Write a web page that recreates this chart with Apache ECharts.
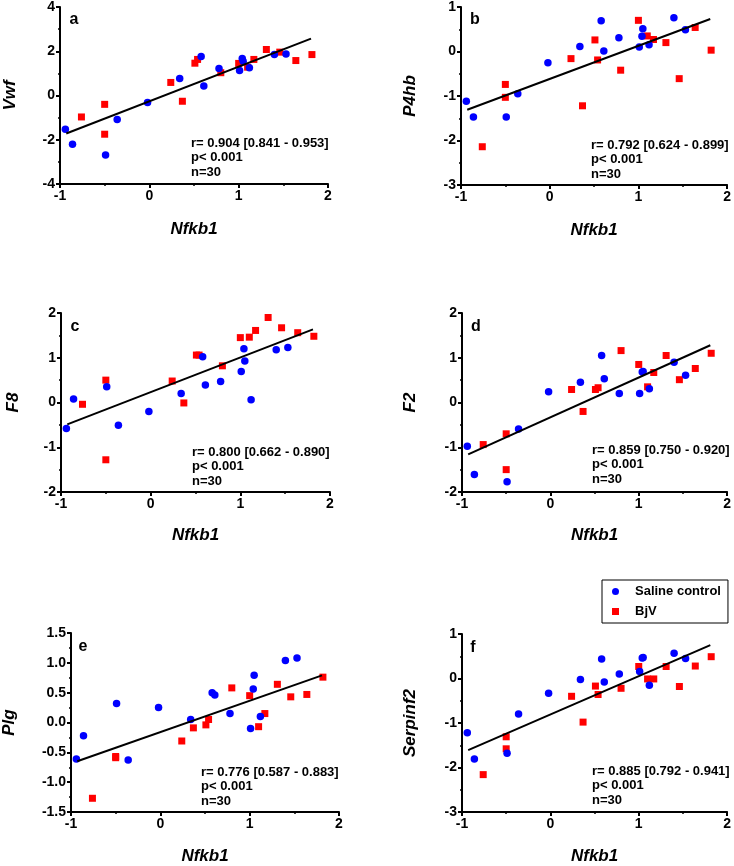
<!DOCTYPE html>
<html><head><meta charset="utf-8">
<script src="https://cdn.jsdelivr.net/npm/echarts@6/dist/echarts.min.js"></script>
<style>html,body{margin:0;padding:0;background:#fff}#c{width:734px;height:866px}</style>
</head><body><div id="c"></div>
<script>
// Shared x values (Nfkb1) for each animal
const salineX = [-0.94, -0.86, -0.49, -0.36, -0.02, 0.34, 0.58, 0.61, 0.78, 1.01, 1.04, 1.05, 1.12, 1.40, 1.53];
const bjvX    = [-0.76, -0.50, -0.50, 0.24, 0.37, 0.51, 0.54, 0.80, 1.00, 1.10, 1.17, 1.31, 1.46, 1.64, 1.82];

// y values per gene
const vwfSaline = [-1.52, -2.20, -2.69, -1.09, -0.32, 0.77, 1.76, 0.43, 1.22, 1.13, 1.67, 1.55, 1.25, 1.85, 1.88];
const vwfBjv    = [-0.97, -0.40, -1.75, 0.59, -0.26, 1.46, 1.63, 1.03, 1.45, 1.28, 1.63, 2.08, 1.96, 1.58, 1.85];
const p4hbSaline = [-1.12, -1.47, -1.47, -0.95, -0.25, 0.11, 0.69, 0.01, 0.31, 0.10, 0.34, 0.51, 0.15, 0.76, 0.49];
const p4hbBjv    = [-2.14, -0.74, -1.03, -0.16, -1.22, 0.26, -0.19, -0.42, 0.70, 0.35, 0.27, 0.20, -0.61, 0.54, 0.03];
const f8Saline = [-0.58, 0.08, 0.35, -0.51, -0.20, 0.20, 1.02, 0.39, 0.47, 0.69, 1.20, 0.93, 0.06, 1.18, 1.23];
const f8Bjv    = [-0.04, 0.50, -1.28, 0.48, -0.01, 1.06, 1.06, 0.82, 1.45, 1.46, 1.61, 1.90, 1.67, 1.56, 1.48];
const f2Saline = [-0.98, -1.61, -1.77, -0.59, 0.24, 0.45, 1.05, 0.53, 0.20, 0.20, 0.68, 0.69, 0.31, 0.90, 0.61];
const f2Bjv    = [-0.94, -0.70, -1.50, 0.29, -0.20, 0.29, 0.33, 1.16, 0.85, 0.35, 0.67, 1.05, 0.51, 0.76, 1.10];
const plgSaline = [-0.61, -0.22, 0.32, -0.63, 0.25, 0.05, 0.50, 0.46, 0.15, -0.10, 0.56, 0.79, 0.10, 1.04, 1.08];
const plgBjv    = [-1.27, -0.57, -0.59, -0.31, -0.09, -0.04, 0.05, 0.58, 0.45, -0.07, 0.15, 0.64, 0.43, 0.47, 0.76];
const serpinf2Saline = [-1.22, -1.81, -1.68, -0.80, -0.33, -0.02, 0.44, -0.08, 0.10, 0.16, 0.46, 0.47, -0.15, 0.57, 0.45];
const serpinf2Bjv    = [-2.16, -1.31, -1.58, -0.40, -0.98, -0.17, -0.36, -0.22, 0.27, -0.01, -0.01, 0.27, -0.18, 0.28, 0.49];

// regression line end points
const fitX = [-0.93, 1.81];
const vwfFit = [-1.72, 2.57];
const p4hbFit = [-1.31, 0.73];
const f8Fit = [-0.49, 1.635];
const f2Fit = [-1.16, 1.28];
const plgFit = [-0.65, 0.79];
const serpinf2Fit = [-1.61, 0.75];

const geneNames = ['Vwf', 'P4hb', 'F8', 'F2', 'Plg', 'Serpinf2'];
const panelLetters = ['a', 'b', 'c', 'd', 'e', 'f'];
const statTexts = [
  'r= 0.904 [0.841 - 0.953]',
  'r= 0.792 [0.624 - 0.899]',
  'r= 0.800 [0.662 - 0.890]',
  'r= 0.859 [0.750 - 0.920]',
  'r= 0.776 [0.587 - 0.883]',
  'r= 0.885 [0.792 - 0.941]'
];
const pText = 'p< 0.001';
const nText = 'n=30';
const xName = 'Nfkb1';
const yMins = [-4, -3, -2, -2, -1.5, -3];
const yMaxs = [4, 1, 2, 2, 1.5, 1];
const yIntervals = [2, 1, 1, 1, 0.5, 1];
const xMin = -1, xMax = 2, xInterval = 1;

const salineY = [vwfSaline, p4hbSaline, f8Saline, f2Saline, plgSaline, serpinf2Saline];
const bjvY = [vwfBjv, p4hbBjv, f8Bjv, f2Bjv, plgBjv, serpinf2Bjv];
const fitY = [vwfFit, p4hbFit, f8Fit, f2Fit, plgFit, serpinf2Fit];

// layout
const grids = [
  {left: 60, top: 6, width: 268, height: 178},
  {left: 461, top: 6, width: 268, height: 179},
  {left: 61, top: 313, width: 269, height: 179},
  {left: 462, top: 313, width: 268, height: 179},
  {left: 70, top: 633, width: 269, height: 180},
  {left: 462, top: 634, width: 268, height: 179}
];
const yNameGaps = [41, 42, 39, 43, 53, 43];
const xNameGaps = [37, 37, 35, 35, 36, 36];
const statPos = [[191, 136], [591, 138], [192, 445], [592, 443], [201, 765], [592, 764]];
const letterPos = [[74, 20], [475, 20], [75, 327], [476, 327], [83, 647], [473, 648]];

const FONT = '"Liberation Sans", Arial, sans-serif';
const pairs = (xs, ys) => xs.map((x, i) => [x, ys[i]]);

const xAxes = [], yAxes = [], series = [], graphics = [];
for (let i = 0; i < 6; i++) {
  const axisCommon = {
    axisLine: {onZero: false, lineStyle: {color: '#000', width: 2}},
    axisTick: {length: 4, lineStyle: {color: '#000', width: 2}},
    minorTick: {show: true, splitNumber: 2, length: 2, lineStyle: {color: '#000', width: 1.5}},
    splitLine: {show: false},
    axisLabel: {color: '#000', fontWeight: 'bold', fontSize: 14, fontFamily: FONT, margin: 5}
  };
  xAxes.push(Object.assign({}, axisCommon, {
    type: 'value', gridIndex: i, min: xMin, max: xMax, interval: xInterval,
    name: xName, nameLocation: 'middle', nameGap: xNameGaps[i],
    nameTextStyle: {color: '#000', fontWeight: 'bold', fontStyle: 'italic', fontSize: 17, fontFamily: FONT}
  }));
  const yLab = Object.assign({}, axisCommon.axisLabel);
  if (yIntervals[i] < 1) yLab.formatter = v => v.toFixed(1);
  yAxes.push(Object.assign({}, axisCommon, {
    type: 'value', gridIndex: i, min: yMins[i], max: yMaxs[i], interval: yIntervals[i],
    axisLabel: yLab,
    name: geneNames[i], nameLocation: 'middle', nameGap: yNameGaps[i],
    nameTextStyle: {color: '#000', fontWeight: 'bold', fontStyle: 'italic', fontSize: 17, fontFamily: FONT}
  }));
  series.push({
    name: 'BjV', type: 'scatter', xAxisIndex: i, yAxisIndex: i, z: 2,
    symbol: 'rect', symbolSize: 7,
    itemStyle: {color: '#ff0000', opacity: 1},
    data: pairs(bjvX, bjvY[i])
  });
  series.push({
    name: 'Saline control', type: 'scatter', xAxisIndex: i, yAxisIndex: i, z: 3,
    symbol: 'circle', symbolSize: 7.5,
    itemStyle: {color: '#0000ff', opacity: 1},
    data: pairs(salineX, salineY[i])
  });
  series.push({
    name: 'fit ' + geneNames[i], type: 'line', xAxisIndex: i, yAxisIndex: i, z: 4,
    symbol: 'none', silent: true,
    lineStyle: {color: '#000', width: 2},
    data: pairs(fitX, fitY[i])
  });
  graphics.push({
    type: 'text', left: statPos[i][0], top: statPos[i][1],
    style: {text: statTexts[i] + '\n' + pText + '\n' + nText, font: 'bold 13px ' + FONT, fill: '#000', lineHeight: 14.5}
  });
  graphics.push({
    type: 'text', x: letterPos[i][0], y: letterPos[i][1],
    style: {text: panelLetters[i], font: 'bold 16px ' + FONT, fill: '#000', align: 'center', verticalAlign: 'middle'}
  });
}

const chart = echarts.init(document.getElementById('c'), null, {renderer: 'canvas'});
chart.setOption({
  animation: false,
  backgroundColor: '#fff',
  grid: grids,
  xAxis: xAxes,
  yAxis: yAxes,
  series: series,
  legend: {
    data: ['Saline control', 'BjV'],
    orient: 'vertical', left: 602, top: 580,
    itemWidth: 7, itemHeight: 7, itemGap: 7,
    padding: [5, 7, 5, 10],
    borderColor: '#000', borderWidth: 1,
    selectedMode: false,
    textStyle: {color: '#000', fontWeight: 'bold', fontSize: 13, fontFamily: FONT, padding: [0, 0, 0, 11]}
  },
  graphic: graphics
});
</script>
</body></html>
